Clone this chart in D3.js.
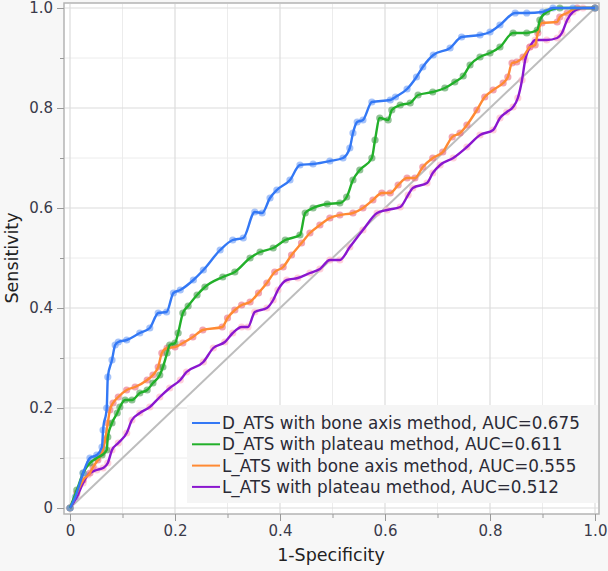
<!DOCTYPE html>
<html>
<head>
<meta charset="utf-8">
<script src="https://cdn.jsdelivr.net/npm/d3@7"></script>
<style>
  body { margin: 0; background: #f7f7f7; }
  text { font-family: "DejaVu Sans", sans-serif; }
</style>
</head>
<body>
<div id="chart"></div>
<script>
// ROC curves, 1-Specificity vs Sensitivity
const seriesNames = [
  "D_ATS with bone axis method, AUC=0.675",
  "D_ATS with plateau method, AUC=0.611",
  "L_ATS with bone axis method, AUC=0.555",
  "L_ATS with plateau method, AUC=0.512"
];

const dBoneFpr = [0,.01,.025,.038,.051,.061,.063,.07,.072,.08,.086,.092,.108,.133,.152,.168,.184,.197,.21,.235,.254,.286,.31,.33,.352,.366,.381,.394,.419,.438,.463,.495,.52,.533,.539,.547,.558,.575,.61,.62,.642,.66,.672,.692,.724,.746,.781,.8,.819,.848,.87,.9,.92,.958,1];
const dBoneTpr = [0,.022,.07,.1,.106,.122,.156,.2,.262,.296,.326,.332,.336,.35,.36,.39,.392,.43,.436,.456,.476,.516,.536,.54,.592,.59,.62,.636,.656,.686,.688,.694,.70,.72,.75,.772,.776,.812,.816,.822,.838,.862,.882,.906,.92,.942,.946,.952,.966,.99,.99,.992,1,1,1];

const dPlatFpr = [0,.013,.025,.038,.051,.061,.07,.072,.08,.09,.095,.105,.118,.133,.147,.158,.171,.177,.185,.19,.2,.206,.215,.225,.242,.257,.291,.314,.343,.362,.387,.41,.438,.448,.463,.49,.514,.527,.539,.552,.575,.581,.59,.606,.613,.629,.648,.663,.691,.714,.733,.749,.762,.781,.8,.819,.844,.87,.89,.895,.908,.933,1];
const dPlatTpr = [0,.036,.07,.09,.1,.106,.116,.142,.17,.19,.202,.216,.216,.23,.236,.25,.266,.282,.31,.326,.33,.35,.39,.404,.426,.442,.462,.472,.5,.512,.52,.536,.546,.59,.6,.608,.61,.622,.656,.676,.70,.736,.78,.776,.796,.806,.81,.826,.832,.84,.852,.864,.886,.902,.91,.922,.95,.95,.956,.976,.992,1,1];

const lBoneFpr = [0,.013,.025,.038,.044,.053,.061,.067,.072,.076,.082,.092,.108,.124,.147,.158,.168,.175,.185,.2,.215,.234,.253,.29,.3,.314,.327,.343,.359,.375,.39,.406,.422,.441,.457,.476,.495,.514,.539,.558,.577,.594,.61,.625,.642,.657,.672,.691,.71,.728,.743,.756,.775,.79,.806,.825,.834,.842,.851,.863,.876,.886,.891,.899,.928,.933,.947,.966,1];
const lBoneTpr = [0,.03,.056,.07,.082,.096,.11,.136,.17,.196,.21,.222,.236,.242,.256,.266,.282,.31,.32,.322,.33,.342,.356,.362,.38,.396,.406,.412,.43,.45,.472,.482,.506,.53,.55,.566,.58,.586,.59,.6,.616,.63,.63,.646,.66,.66,.682,.70,.712,.742,.75,.766,.796,.822,.836,.85,.862,.89,.892,.902,.922,.926,.95,.97,.972,.982,.99,1,1];

const lPlatFpr = [0,.013,.025,.034,.051,.063,.072,.08,.092,.108,.118,.133,.152,.171,.19,.21,.222,.254,.273,.295,.31,.327,.339,.352,.375,.387,.396,.413,.434,.457,.476,.495,.514,.533,.558,.585,.604,.629,.644,.653,.68,.691,.705,.73,.756,.781,.806,.819,.832,.844,.853,.861,.867,.876,.886,.908,.928,.937,.947,.958,.977,1];
const lPlatTpr = [0,.022,.05,.066,.076,.08,.09,.116,.13,.15,.176,.19,.202,.222,.24,.256,.272,.292,.32,.332,.35,.362,.362,.392,.40,.416,.436,.456,.46,.47,.478,.496,.496,.522,.556,.59,.596,.602,.626,.64,.65,.67,.686,.70,.722,.746,.756,.78,.792,.802,.82,.856,.896,.922,.936,.936,.94,.95,.976,.992,1,1];

const lineColors = ["#3378f5", "#22b02a", "#ff8a33", "#8a16cf"];
const dotColors = ["#6b9bf5", "#4a9a52", "#e8687e", "#ffb0c2"];

const majorTicks = [0, 0.2, 0.4, 0.6, 0.8, 1.0];
const minorTicks = [0.1, 0.3, 0.5, 0.7, 0.9];

const W = 608, H = 571;
const x = d3.scaleLinear().domain([0, 1]).range([70, 595]);
const y = d3.scaleLinear().domain([0, 1]).range([508, 8]);
const fmt = d => d === 0 ? "0" : d3.format(".1f")(d);

const svg = d3.select("#chart").append("svg")
  .attr("width", W).attr("height", H);

svg.append("rect").attr("width", W).attr("height", H).attr("fill", "#f7f7f7");

// plot area
svg.append("rect")
  .attr("x", 64).attr("y", 3).attr("width", 535).attr("height", 511)
  .attr("fill", "#fff").attr("stroke", "#b4b4b4").attr("stroke-width", 1.5);

// grid
const grid = svg.append("g");
grid.selectAll(".vmin").data(minorTicks).enter().append("line")
  .attr("x1", d => x(d)).attr("x2", d => x(d)).attr("y1", 4).attr("y2", 513)
  .attr("stroke", "#ececec").attr("stroke-width", 1);
grid.selectAll(".hmin").data(minorTicks).enter().append("line")
  .attr("y1", d => y(d)).attr("y2", d => y(d)).attr("x1", 65).attr("x2", 598)
  .attr("stroke", "#ececec").attr("stroke-width", 1);
grid.selectAll(".vmaj").data(majorTicks).enter().append("line")
  .attr("x1", d => x(d)).attr("x2", d => x(d)).attr("y1", 4).attr("y2", 513)
  .attr("stroke", "#dcdcdc").attr("stroke-width", 1.2);
grid.selectAll(".hmaj").data(majorTicks).enter().append("line")
  .attr("y1", d => y(d)).attr("y2", d => y(d)).attr("x1", 65).attr("x2", 598)
  .attr("stroke", "#dcdcdc").attr("stroke-width", 1.2);

// axes
const yAxis = svg.append("g").attr("transform", "translate(64,0)")
  .call(d3.axisLeft(y).tickValues(majorTicks).tickSize(7).tickPadding(4).tickFormat(fmt));
const yMinor = svg.append("g").attr("transform", "translate(64,0)")
  .call(d3.axisLeft(y).tickValues(minorTicks).tickSize(4).tickFormat(""));
const xAxis = svg.append("g").attr("transform", "translate(0,514)")
  .call(d3.axisBottom(x).tickValues(majorTicks).tickSize(7).tickPadding(4).tickFormat(fmt));
const xMinor = svg.append("g").attr("transform", "translate(0,514)")
  .call(d3.axisBottom(x).tickValues(minorTicks).tickSize(4).tickFormat(""));

[yAxis, yMinor, xAxis, xMinor].forEach(g => {
  g.select(".domain").remove();
  g.selectAll("line").attr("stroke", "#999");
  g.selectAll("text").attr("fill", "#3a3a4a").style("font-size", "15px")
    .style("font-family", "DejaVu Sans, sans-serif");
});

// axis titles
svg.append("text")
  .attr("x", 331).attr("y", 561)
  .attr("text-anchor", "middle").attr("font-size", "17.5px").attr("fill", "#222")
  .text("1-Specificity");
svg.append("text")
  .attr("transform", "translate(18,258) rotate(-90)")
  .attr("text-anchor", "middle").attr("font-size", "17.5px").attr("fill", "#222")
  .text("Sensitivity");

// diagonal reference
svg.append("line")
  .attr("x1", x(0)).attr("y1", y(0)).attr("x2", x(1)).attr("y2", y(1))
  .attr("stroke", "#bdbdbd").attr("stroke-width", 2);

const series = [
  { fpr: dBoneFpr, tpr: dBoneTpr },
  { fpr: dPlatFpr, tpr: dPlatTpr },
  { fpr: lBoneFpr, tpr: lBoneTpr },
  { fpr: lPlatFpr, tpr: lPlatTpr }
];

const line = d3.line()
  .x(d => x(d[0])).y(d => y(d[1]))
  .curve(d3.curveMonotoneX);

// dots first, then lines on top, drawn in reverse so blue is on top
series.slice().reverse().forEach((s, ri) => {
  const i = series.length - 1 - ri;
  const pts = s.fpr.map((v, k) => [v, s.tpr[k]]);
  svg.append("g").selectAll("circle").data(pts).enter().append("circle")
    .attr("cx", d => x(d[0])).attr("cy", d => y(d[1])).attr("r", 3.6)
    .attr("fill", dotColors[i]).attr("opacity", 0.6);
});
series.slice().reverse().forEach((s, ri) => {
  const i = series.length - 1 - ri;
  const pts = s.fpr.map((v, k) => [v, s.tpr[k]]);
  svg.append("path").datum(pts)
    .attr("d", line).attr("fill", "none")
    .attr("stroke", lineColors[i]).attr("stroke-width", 2.4)
    .attr("stroke-linejoin", "round");
});

// legend
const legend = svg.append("g");
legend.append("rect")
  .attr("x", 187).attr("y", 405).attr("width", 411).attr("height", 98)
  .attr("fill", "#f5f5f5");
seriesNames.forEach((name, i) => {
  const cy = 423 + i * 21.3;
  legend.append("line")
    .attr("x1", 192).attr("x2", 220).attr("y1", cy).attr("y2", cy)
    .attr("stroke", lineColors[i]).attr("stroke-width", 2);
  legend.append("text")
    .attr("x", 222).attr("y", cy + 6)
    .attr("font-size", "16.8px").attr("fill", "#2a2a35")
    .text(name);
});
</script>
</body>
</html>
